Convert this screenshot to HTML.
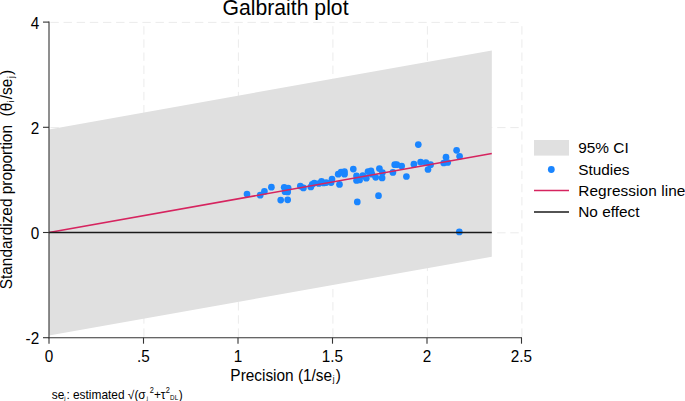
<!DOCTYPE html>
<html><head><meta charset="utf-8"><title>Galbraith plot</title>
<style>
html,body{margin:0;padding:0;background:#fff;}
body{width:685px;height:401px;overflow:hidden;}
svg{display:block;font-family:"Liberation Sans",sans-serif;}
text{fill:#000;}
</style></head><body>
<svg width="685" height="401" viewBox="0 0 685 401">
<rect x="0" y="0" width="685" height="401" fill="#ffffff"/>
<g stroke="#ebebeb" stroke-width="1" stroke-dasharray="8.4 4.74" fill="none"><line x1="143.9" y1="336.8" x2="143.9" y2="22.1" /><line x1="238.4" y1="336.8" x2="238.4" y2="22.1" /><line x1="332.9" y1="336.8" x2="332.9" y2="22.1" /><line x1="427.4" y1="336.8" x2="427.4" y2="22.1" /><line x1="521.9" y1="336.8" x2="521.9" y2="22.1" /><line x1="50.4" y1="22.4" x2="521.5" y2="22.4" /><line x1="50.4" y1="127.6" x2="521.5" y2="127.6" /><line x1="50.4" y1="232.8" x2="521.5" y2="232.8" /></g>
<polygon points="49.0,129.4 491.8,50.5 491.8,256.7 49.0,335.6" fill="#e0e0e0"/>
<g fill="#1a85ff"><circle cx="247.0" cy="194.0" r="3.35"/><circle cx="260.2" cy="195.2" r="3.35"/><circle cx="264.4" cy="191.4" r="3.35"/><circle cx="271.4" cy="187.2" r="3.35"/><circle cx="284.2" cy="187.3" r="3.35"/><circle cx="288.2" cy="188.2" r="3.35"/><circle cx="285.0" cy="191.7" r="3.35"/><circle cx="287.7" cy="191.9" r="3.35"/><circle cx="280.7" cy="200.1" r="3.35"/><circle cx="287.7" cy="199.8" r="3.35"/><circle cx="300.3" cy="186.1" r="3.35"/><circle cx="303.4" cy="187.9" r="3.35"/><circle cx="310.8" cy="187.0" r="3.35"/><circle cx="312.2" cy="184.4" r="3.35"/><circle cx="314.3" cy="183.0" r="3.35"/><circle cx="318.8" cy="183.5" r="3.35"/><circle cx="321.5" cy="181.4" r="3.35"/><circle cx="323.6" cy="183.0" r="3.35"/><circle cx="326.2" cy="182.6" r="3.35"/><circle cx="331.1" cy="182.6" r="3.35"/><circle cx="332.0" cy="179.1" r="3.35"/><circle cx="338.2" cy="174.2" r="3.35"/><circle cx="341.1" cy="172.1" r="3.35"/><circle cx="344.5" cy="171.7" r="3.35"/><circle cx="344.5" cy="174.2" r="3.35"/><circle cx="339.5" cy="184.4" r="3.35"/><circle cx="353.3" cy="169.1" r="3.35"/><circle cx="356.5" cy="175.9" r="3.35"/><circle cx="356.5" cy="180.5" r="3.35"/><circle cx="359.6" cy="180.0" r="3.35"/><circle cx="362.8" cy="175.6" r="3.35"/><circle cx="366.3" cy="178.2" r="3.35"/><circle cx="368.0" cy="171.6" r="3.35"/><circle cx="371.0" cy="170.9" r="3.35"/><circle cx="371.9" cy="174.2" r="3.35"/><circle cx="375.7" cy="177.3" r="3.35"/><circle cx="379.4" cy="168.6" r="3.35"/><circle cx="382.4" cy="172.6" r="3.35"/><circle cx="382.1" cy="177.9" r="3.35"/><circle cx="357.3" cy="201.9" r="3.35"/><circle cx="378.5" cy="195.7" r="3.35"/><circle cx="392.9" cy="172.4" r="3.35"/><circle cx="394.7" cy="164.7" r="3.35"/><circle cx="396.8" cy="164.7" r="3.35"/><circle cx="401.7" cy="166.0" r="3.35"/><circle cx="406.4" cy="176.5" r="3.35"/><circle cx="413.9" cy="164.2" r="3.35"/><circle cx="418.3" cy="144.6" r="3.35"/><circle cx="420.6" cy="162.1" r="3.35"/><circle cx="425.9" cy="162.5" r="3.35"/><circle cx="430.6" cy="164.7" r="3.35"/><circle cx="428.0" cy="169.5" r="3.35"/><circle cx="443.7" cy="163.0" r="3.35"/><circle cx="446.0" cy="157.2" r="3.35"/><circle cx="447.7" cy="162.5" r="3.35"/><circle cx="456.6" cy="150.3" r="3.35"/><circle cx="459.6" cy="156.3" r="3.35"/><circle cx="459.3" cy="231.9" r="3.35"/></g>
<line x1="49" y1="232.5" x2="491.8" y2="153.6" stroke="#d6245f" stroke-width="1.5"/>
<line x1="49" y1="232.4" x2="491.8" y2="232.4" stroke="#1a1a1a" stroke-width="1.5"/>
<g stroke="#333" stroke-width="1.1" fill="none">
<line x1="49" y1="21.6" x2="49" y2="338.2"/>
<line x1="48.5" y1="337.7" x2="522" y2="337.7"/>
<line x1="49.0" y1="337.7" x2="49.0" y2="343.7"/><line x1="143.5" y1="337.7" x2="143.5" y2="343.7"/><line x1="238.0" y1="337.7" x2="238.0" y2="343.7"/><line x1="332.5" y1="337.7" x2="332.5" y2="343.7"/><line x1="427.0" y1="337.7" x2="427.0" y2="343.7"/><line x1="521.5" y1="337.7" x2="521.5" y2="343.7"/><line x1="43" y1="22.1" x2="49" y2="22.1"/><line x1="43" y1="127.3" x2="49" y2="127.3"/><line x1="43" y1="232.5" x2="49" y2="232.5"/><line x1="43" y1="337.7" x2="49" y2="337.7"/>
</g>
<text transform="translate(48.9,361.9) scale(1,1.07)" font-size="15.3px" text-anchor="middle" >0</text><text transform="translate(143.4,361.9) scale(1,1.07)" font-size="15.3px" text-anchor="middle" >.5</text><text transform="translate(237.9,361.9) scale(1,1.07)" font-size="15.3px" text-anchor="middle" >1</text><text transform="translate(332.4,361.9) scale(1,1.07)" font-size="15.3px" text-anchor="middle" >1.5</text><text transform="translate(426.9,361.9) scale(1,1.07)" font-size="15.3px" text-anchor="middle" >2</text><text transform="translate(521.4,361.9) scale(1,1.07)" font-size="15.3px" text-anchor="middle" >2.5</text><text transform="translate(39.2,28.5) scale(1,1.07)" font-size="15.3px" text-anchor="end" >4</text><text transform="translate(39.2,133.8) scale(1,1.07)" font-size="15.3px" text-anchor="end" >2</text><text transform="translate(39.2,238.9) scale(1,1.07)" font-size="15.3px" text-anchor="end" >0</text><text transform="translate(39.2,344.1) scale(1,1.07)" font-size="15.3px" text-anchor="end" >-2</text>
<text transform="translate(285.5,15.2) scale(1,1.02)" font-size="21.2px" text-anchor="middle" >Galbraith plot</text>
<text transform="translate(285.6,380.6) scale(1,1.035)" font-size="15.4px" text-anchor="middle" >Precision (1/se<tspan font-size="8px" dy="1.1" dx="0.6">j</tspan><tspan dy="-1.1" dx="1.2">)</tspan></text>
<text transform="translate(12.4,179.6) rotate(-90) scale(1,1.035)" font-size="15.4px" text-anchor="middle" xml:space="preserve">Standardized proportion  (θ<tspan font-size="8px" dy="1.1" dx="0.6">i</tspan><tspan dy="-1.1" dx="1.2">/se</tspan><tspan font-size="8px" dy="1.1" dx="0.6">j</tspan><tspan dy="-1.1" dx="1.2">)</tspan></text>
<g font-size="11.9px">
<text x="51.8" y="398.7">se</text><text x="64.3" y="399.6" font-size="5.8px">j</text><text x="66.4" y="398.7">: estimated √(σ</text><text x="146.7" y="399.6" font-size="5.8px">j</text><text transform="translate(149.7,392.6) scale(1,1.2)" font-size="7.4px">2</text><text x="153.9" y="398.7">+τ</text><text transform="translate(165.7,392.6) scale(1,1.2)" font-size="7.4px">2</text><text x="170.1" y="399.6" font-size="6.3px">DL</text><text x="178.7" y="398.7">)</text>
</g>
<!-- legend -->
<rect x="534" y="140" width="35" height="15.6" fill="#e0e0e0"/>
<circle cx="551.3" cy="169.5" r="3.4" fill="#1a85ff"/>
<line x1="534" y1="190.5" x2="569" y2="190.5" stroke="#d6245f" stroke-width="1.5"/>
<line x1="534" y1="212" x2="569" y2="212" stroke="#1a1a1a" stroke-width="1.5"/>
<text transform="translate(578.2,153.3) scale(1,1.01)" font-size="15.4px" text-anchor="start" >95% CI</text><text transform="translate(578.2,174.6) scale(1,1.01)" font-size="15.4px" text-anchor="start" >Studies</text><text transform="translate(578.2,196.0) scale(1,1.01)" font-size="15.4px" text-anchor="start" letter-spacing="0.08">Regression line</text><text transform="translate(578.2,217.2) scale(1,1.01)" font-size="15.4px" text-anchor="start" >No effect</text>
</svg>
</body></html>
